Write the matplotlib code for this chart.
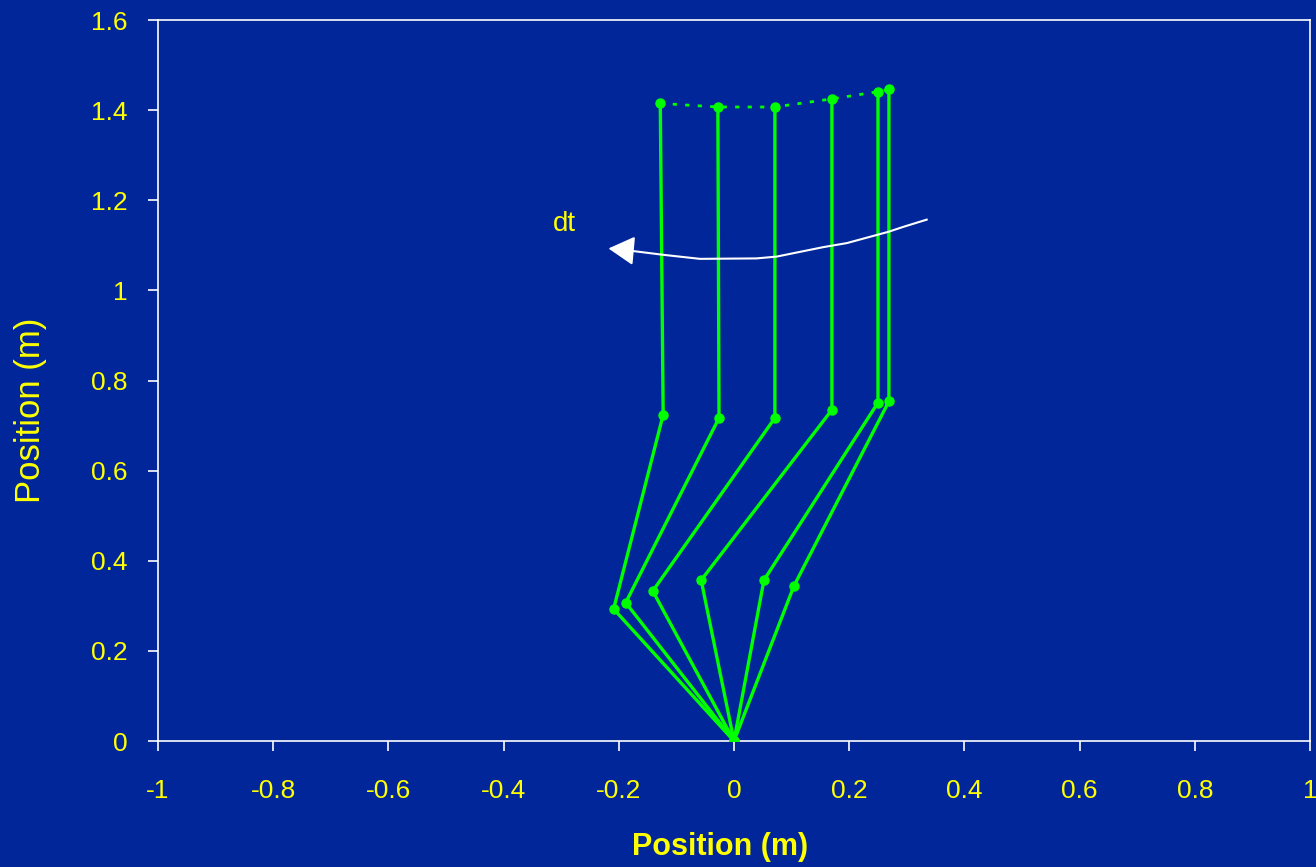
import numpy as np
import matplotlib.pyplot as plt

# joint positions for each frame of the swing (metres)
base_x = [0.0, 0.0, 0.0, 0.0, 0.0, 0.0]
base_y = [0.0, 0.0, 0.0, 0.0, 0.0, 0.0]
knee_x = [-0.209, -0.188, -0.141, -0.057, 0.052, 0.104]
knee_y = [0.293, 0.307, 0.333, 0.357, 0.357, 0.344]
hip_x = [-0.123, -0.026, 0.071, 0.170, 0.250, 0.269]
hip_y = [0.724, 0.717, 0.717, 0.735, 0.751, 0.754]
head_x = [-0.128, -0.028, 0.071, 0.170, 0.250, 0.269]
head_y = [1.415, 1.407, 1.407, 1.425, 1.441, 1.446]

# time-direction arrow path
arrow_x = [0.3345, 0.294, 0.268, 0.196, 0.155, 0.074, 0.039, -0.059, -0.123, -0.192]
arrow_y = [1.157, 1.141, 1.130, 1.105, 1.096, 1.075, 1.071, 1.070, 1.079, 1.090]
arrow_tip = (-0.218, 1.093)

bg = '#002699'
green = '#00ff00'
yellow = '#ffff00'
font = 'Liberation Sans'

fig = plt.figure(figsize=(13.16, 8.67), dpi=100, facecolor=bg)
ax = fig.add_axes([0.1201, 0.1453, 0.8753, 0.8316], facecolor=bg)

for i in range(len(base_x)):
    xs = [base_x[i], knee_x[i], hip_x[i], head_x[i]]
    ys = [base_y[i], knee_y[i], hip_y[i], head_y[i]]
    ax.plot(xs, ys, color=green, lw=2.4, marker='o', ms=6.5,
            solid_joinstyle='round', zorder=3)

# dotted path traced by the head
ax.plot(head_x, head_y, color=green, lw=2, linestyle=(0, (1.5, 3)), zorder=2)

ax.plot(arrow_x, arrow_y, color='white', lw=1.5, zorder=4)
ax.annotate('', xy=arrow_tip, xytext=(arrow_x[-1], arrow_y[-1]),
            arrowprops=dict(arrowstyle='-|>,head_length=0.8,head_width=0.45',
                            color='white', lw=1.5, mutation_scale=20,
                            shrinkA=0, shrinkB=0), zorder=4)
ax.text(-0.294, 1.147, 'dt', color=yellow, fontsize=20,
        family=font, ha='center', va='center')

ax.set_xlim(-1, 1)
ax.set_ylim(0, 1.6)
ax.set_xticks(np.arange(-1, 1.01, 0.2))
ax.set_yticks(np.arange(0, 1.61, 0.2))
ax.set_xticklabels(['-1', '-0.8', '-0.6', '-0.4', '-0.2', '0', '0.2',
                    '0.4', '0.6', '0.8', '1'])
ax.set_yticklabels(['0', '0.2', '0.4', '0.6', '0.8', '1', '1.2', '1.4', '1.6'])

for s in ax.spines.values():
    s.set_color('white')
    s.set_linewidth(1.2)
ax.tick_params(colors='white', labelcolor=yellow, length=7, width=1.2,
               labelsize=19, direction='out')
ax.tick_params(axis='x', pad=20)
ax.tick_params(axis='y', pad=15)
for lab in ax.get_xticklabels() + ax.get_yticklabels():
    lab.set_family(font)

ax.set_xlabel('Position (m)', color=yellow, fontsize=22, fontweight='bold',
              family=font, va='center', ha='center')
ax.set_ylabel('Position (m)', color=yellow, fontsize=25,
              family=font, va='center', ha='center')
ax.xaxis.set_label_coords(0.488, -0.147)
ax.yaxis.set_label_coords(-0.111, 0.458)

fig.savefig('out.png', dpi=100, facecolor=bg)
